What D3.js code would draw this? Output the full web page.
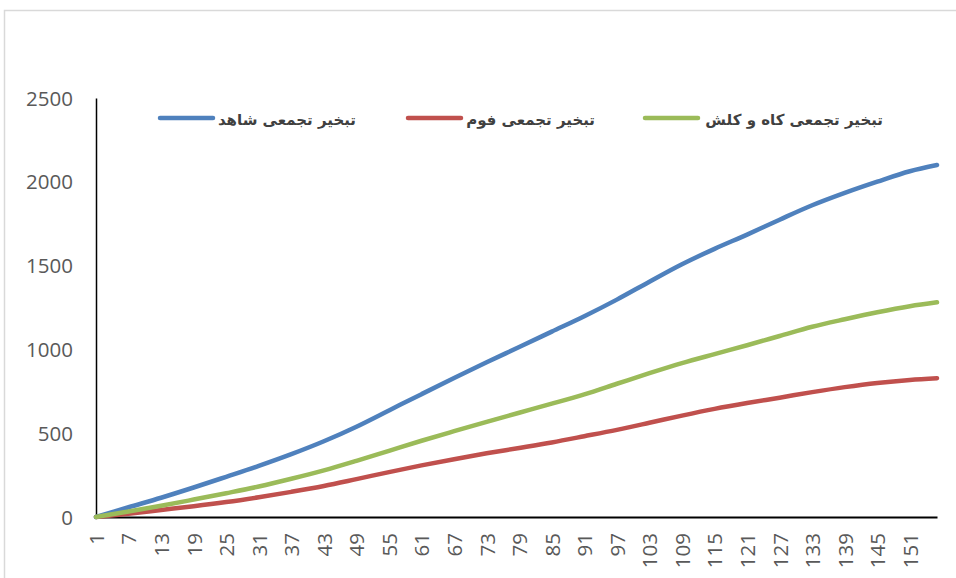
<!DOCTYPE html>
<html>
<head>
<meta charset="utf-8">
<script src="https://cdn.jsdelivr.net/npm/d3@7"></script>
<style>
  body { margin: 0; background: #fff; }
  .axis text { font-family: "Open Sans", sans-serif; font-size: 20.5px; fill: #595959; }
  .legend text { font-family: "DejaVu Sans", sans-serif; font-size: 15px; font-weight: bold; fill: #404040; }
</style>
</head>
<body>
<div id="chart"></div>
<script>
let days = [1, 7, 13, 19, 25, 31, 37, 43, 49, 55, 61, 67, 73, 79, 85, 91, 97, 103, 109, 115, 121, 127, 133, 139, 145, 151, 156];
let tickDays = [1, 7, 13, 19, 25, 31, 37, 43, 49, 55, 61, 67, 73, 79, 85, 91, 97, 103, 109, 115, 121, 127, 133, 139, 145, 151];
let yTicks = [0, 500, 1000, 1500, 2000, 2500];

let control = [0, 58, 115, 176, 240, 305, 375, 452, 539, 636, 733, 829, 923, 1014, 1106, 1198, 1297, 1404, 1508, 1600, 1685, 1774, 1860, 1934, 2001, 2063, 2100];
let foam = [0, 20, 42, 64, 89, 118, 150, 185, 226, 268, 308, 345, 380, 412, 445, 482, 520, 562, 605, 645, 680, 712, 745, 775, 800, 818, 828];
let straw = [0, 33, 67, 104, 142, 182, 228, 278, 335, 395, 455, 512, 568, 622, 676, 732, 795, 858, 918, 972, 1025, 1080, 1135, 1180, 1222, 1258, 1281];

let seriesNames = ["تبخیر تجمعی شاهد", "تبخیر تجمعی فوم", "تبخیر تجمعی کاه و کلش"];
let seriesColors = ["#4F81BD", "#C0504D", "#9BBB59"];

let svgWidth = 956;
let svgHeight = 578;

let margin = { top: 98, right: 19, bottom: 61, left: 96 };
let width = svgWidth - margin.left - margin.right;
let height = svgHeight - margin.top - margin.bottom;

let svg = d3.select("#chart").append("svg")
  .attr("width", svgWidth)
  .attr("height", svgHeight);

// outer chart frame
svg.append("rect")
  .attr("x", 4.5).attr("y", 10.5)
  .attr("width", 1000).attr("height", 1000)
  .attr("fill", "none")
  .attr("stroke", "#d9d9d9")
  .attr("stroke-width", 1.5);

let chartGroup = svg.append("g")
  .attr("transform", `translate(${margin.left}, ${margin.top})`);

let x = d3.scaleLinear().domain([1, 156]).range([0, width]);
let y = d3.scaleLinear().domain([0, 2500]).range([height, 0]);

// y axis
let yAxis = chartGroup.append("g")
  .classed("axis", true)
  .call(d3.axisLeft(y).tickValues(yTicks).tickSize(0).tickPadding(23).tickFormat(d3.format("d")));
yAxis.select(".domain").attr("stroke", "#000").attr("stroke-width", 1.5);
yAxis.selectAll("text").attr("dy", "0.35em");

// x axis
let xAxis = chartGroup.append("g")
  .classed("axis", true)
  .attr("transform", `translate(0, ${height})`)
  .call(d3.axisBottom(x).tickValues(tickDays).tickSize(0).tickFormat(d3.format("d")));
xAxis.select(".domain").attr("stroke", "#000").attr("stroke-width", 2);
xAxis.selectAll("text")
  .attr("transform", "rotate(-90)")
  .attr("text-anchor", "end")
  .attr("x", -16)
  .attr("y", 0)
  .attr("dy", "0.36em");

let line = d3.line()
  .x((d, i) => x(days[i]))
  .y(d => y(d))
  .curve(d3.curveMonotoneX);

let allSeries = [control, foam, straw];

// draw red first so blue and green sit on top near the origin
[1, 0, 2].forEach(function (k) {
  chartGroup.append("path")
    .datum(allSeries[k])
    .attr("fill", "none")
    .attr("stroke", seriesColors[k])
    .attr("stroke-width", 4.5)
    .attr("stroke-linecap", "round")
    .attr("stroke-linejoin", "round")
    .attr("d", line);
});

// legend: line on the left, label to its right
let legendItems = [
  { lx: 160, tx: 356 },
  { lx: 408, tx: 595 },
  { lx: 645, tx: 883 }
];
let legend = svg.append("g").classed("legend", true);
legendItems.forEach(function (item, i) {
  legend.append("line")
    .attr("x1", item.lx).attr("x2", item.lx + 53)
    .attr("y1", 118).attr("y2", 118)
    .attr("stroke", seriesColors[i])
    .attr("stroke-width", 4.5)
    .attr("stroke-linecap", "round");
  legend.append("text")
    .attr("x", item.tx)
    .attr("y", 125)
    .attr("text-anchor", "end")
    .text(seriesNames[i]);
});
</script>
</body>
</html>
